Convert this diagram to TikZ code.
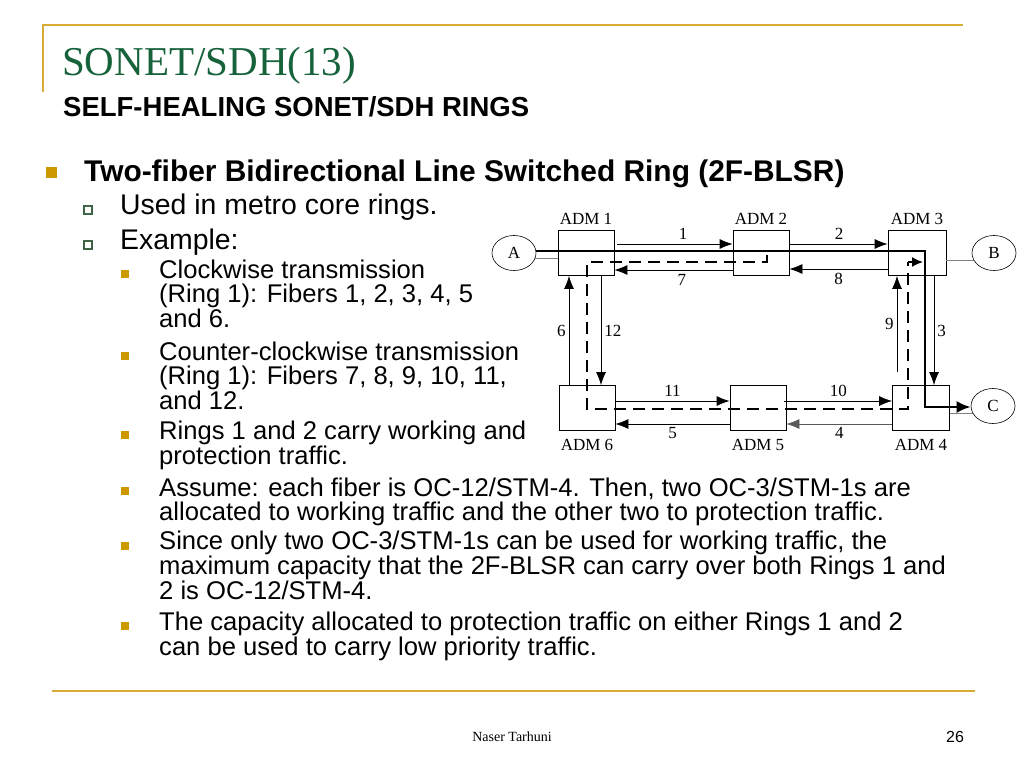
\documentclass[tikz,border=0pt]{standalone}
\usepackage{fontspec}
\setmainfont{Liberation Serif}
\setsansfont{Liberation Sans}
\usepackage{tikz}
\usetikzlibrary{shapes.geometric, arrows.meta, positioning, calc}
\definecolor{titlegreen}{RGB}{22,98,58}
\definecolor{rulegold}{RGB}{214,172,52}
\definecolor{bulletgold}{RGB}{204,153,0}
\definecolor{boxgreen}{RGB}{62,100,72}

\begin{document}
\begin{tikzpicture}[
    x=1pt, y=-1pt,
    lvlone/.style={anchor=base west, inner sep=0, font=\sffamily\bfseries\fontsize{29.9}{30}\selectfont},
    lvltwo/.style={anchor=base west, inner sep=0, font=\sffamily\fontsize{28.4}{28}\selectfont},
    lvlthree/.style={anchor=base west, inner sep=0, align=left, font=\sffamily\fontsize{25.6}{23.5}\selectfont},
    sqbullet/.style={fill=bulletgold, inner sep=0, minimum size=11pt},
    smallbullet/.style={fill=bulletgold, inner sep=0, minimum size=8.5pt},
    boxbullet/.style={draw=boxgreen, fill=white, line width=1.3pt, inner sep=0, minimum size=8pt},
    adm/.style={draw, line width=0.8pt, minimum width=56pt, minimum height=45pt, inner sep=0},
    station/.style={draw, ellipse, line width=0.6pt, minimum width=44pt, minimum height=35pt, inner sep=0, font=\fontsize{17}{17}\selectfont},
    admlabel/.style={font=\fontsize{17}{17}\selectfont, inner sep=1pt},
    num/.style={font=\fontsize{17}{17}\selectfont, inner sep=2pt},
    fiber/.style={line width=0.8pt, -{Latex[length=13pt,width=10pt]}},
    work/.style={line width=2.4pt},
    prot/.style={line width=2pt, dash pattern=on 12pt off 7pt},
    tap/.style={line width=0.8pt, gray}
]
    \useasboundingbox[fill=white] (0,0) rectangle (1024,768);

    % Slide frame
    \draw[rulegold, line width=2pt] (43,92) -- (43,25) -- (963,25);
    \draw[rulegold, line width=2.5pt] (52,691) -- (975,691);

    % Titles
    \node[anchor=base west, inner sep=0, text=titlegreen, font=\fontsize{41}{41}\selectfont] (title) at (62,75) {SONET/SDH(13)};
    \node[anchor=base west, inner sep=0, font=\sffamily\bfseries\fontsize{27.5}{28}\selectfont] (subtitle) at (63,116) {SELF-HEALING SONET/SDH RINGS};

    % Bullet list (multi-line texts sit on their last baseline)
    \node[sqbullet] (bul1) at (51,172) {};
    \node[lvlone] (item1) at (84,181) {Two-fiber Bidirectional Line Switched Ring (2F-BLSR)};
    \node[boxbullet] (bul2) at (88,210) {};
    \node[lvltwo] (item2) at (120,214) {Used in metro core rings.};
    \node[boxbullet] (bul3) at (88,245) {};
    \node[lvltwo] (item3) at (120,249) {Example:};

    \node[smallbullet] (bul4) at (125,274) {};
    \node[lvlthree] (item4) at (159,327) {Clockwise transmission\\(Ring 1): Fibers 1, 2, 3, 4, 5\\and 6.};
    \node[smallbullet] (bul5) at (125,356) {};
    \node[lvlthree] (item5) at (159,409) {Counter-clockwise transmission\\(Ring 1): Fibers 7, 8, 9, 10, 11,\\and 12.};
    \node[smallbullet] (bul6) at (125,435) {};
    \node[lvlthree] (item6) at (159,464) {Rings 1 and 2 carry working and\\protection traffic.};
    \node[smallbullet] (bul7) at (125,491) {};
    \node[lvlthree] (item7) at (159,520) {Assume: each fiber is OC-12/STM-4. Then, two OC-3/STM-1s are\\allocated to working traffic and the other two to protection traffic.};
    \node[smallbullet] (bul8) at (125,546) {};
    \node[lvlthree] (item8) at (159,599) {Since only two OC-3/STM-1s can be used for working traffic, the\\maximum capacity that the 2F-BLSR can carry over both Rings 1 and\\2 is OC-12/STM-4.};
    \node[smallbullet] (bul9) at (125,626) {};
    \node[lvlthree] (item9) at (159,655) {The capacity allocated to protection traffic on either Rings 1 and 2\\can be used to carry low priority traffic.};

    % Ring nodes
    \node[adm, label={[admlabel, label distance=4pt]above:ADM 1}] (adm1) at (586,253) {};
    \node[adm, label={[admlabel, label distance=4pt]above:ADM 2}] (adm2) at (761,253) {};
    \node[adm, minimum width=58pt, label={[admlabel, label distance=4pt]above:ADM 3}] (adm3) at (917,253) {};
    \node[adm, label={[admlabel, label distance=7pt]below:ADM 6}] (adm6) at (587,408) {};
    \node[adm, label={[admlabel, label distance=7pt]below:ADM 5}] (adm5) at (758,408) {};
    \node[adm, minimum width=57pt, label={[admlabel, label distance=7pt]below:ADM 4}] (adm4) at (921,408) {};

    \node[station] (nodeA) at (514,253) {A};
    \node[station] (nodeB) at (994,253) {B};
    \node[station] (nodeC) at (993,406) {C};

    % Fibers of the ring
    \draw[fiber] ($(adm1.east)+(3,-9)$) -- node[num, above=2pt, pos=0.57] (lab1) {1} ($(adm2.west)+(0,-9)$);
    \draw[fiber] ($(adm2.east)+(1,-9)$) -- node[num, above=2pt] (lab2) {2} ($(adm3.west)+(0,-9)$);
    \draw[fiber] ($(adm3.south)+(17,0)$) -- node[num, right=1pt] (lab3) {3} ($(adm4.north)+(13,0)$);
    \draw[fiber, gray!70!black] ($(adm4.west)+(0,16)$) -- node[num, below=1pt, black] (lab4) {4} ($(adm5.east)+(0,16)$);
    \draw[fiber] ($(adm5.west)+(0,16)$) -- node[num, below=1pt] (lab5) {5} ($(adm6.east)+(0,16)$);
    \draw[fiber] ($(adm6.north)+(-18,0)$) -- node[num, left=1pt] (lab6) {6} ($(adm1.south)+(-17,0)$);
    \draw[fiber] ($(adm2.west)+(0,17)$) -- node[num, below=2pt, pos=0.43] (lab7) {7} ($(adm1.east)+(0,17)$);
    \draw[fiber] ($(adm3.west)+(0,16)$) -- node[num, below=2pt] (lab8) {8} ($(adm2.east)+(0,16)$);
    \coordinate (f9) at ($(adm4.north)+(-24,-13)$);
    \draw[fiber] (f9) -- node[num, left=1pt] (lab9) {9} ($(adm3.south)+(-20,0)$);
    \draw[fiber] ($(adm5.east)+(-2,-7)$) -- node[num, above=2pt] (lab10) {10} ($(adm4.west)+(0,-7)$);
    \draw[fiber] ($(adm6.east)+(0,-7)$) -- node[num, above=2pt] (lab11) {11} ($(adm5.west)+(0,-7)$);
    \draw[fiber] ($(adm1.south)+(15,0)$) -- node[num, right=1pt] (lab12) {12} ($(adm6.north)+(14,0)$);

    % Tributaries
    \draw[tap] (nodeA.-14) -- (adm1.west |- nodeA.-14);
    \draw[tap] (adm3.east |- nodeB.200) -- (nodeB.200);
    \draw[tap] (adm4.east |- nodeC.200) -- (nodeC.200);

    % Working path A to C
    \coordinate (w1) at (925,251);
    \coordinate (w2) at (925,407);
    \draw[work, -{Latex[length=14pt,width=12pt]}] ($(nodeA.east)+(0,-2)$) -- (w1) -- (w2) -- (nodeC.west |- w2);

    % Protection path
    \coordinate (d0) at (767,255);
    \coordinate (d1) at (767,262);
    \coordinate (d2) at (587,262);
    \coordinate (d3) at (587,409);
    \coordinate (d4) at (908,409);
    \coordinate (d5) at (908,262);
    \coordinate (d6) at (923,262);
    \draw[prot] (d0) -- (d1) -- (d2) -- (d3) -- (d4) -- (d5);
    \draw[line width=1.6pt, -{Latex[length=11pt,width=10pt]}] (d5) -- (d6);

    % Footer
    \node[anchor=base, inner sep=0, font=\fontsize{14}{14}\selectfont] (author) at (512,741) {Naser Tarhuni};
    \node[anchor=base, inner sep=0, font=\sffamily\fontsize{16}{16}\selectfont] (pagenum) at (955,742) {26};
\end{tikzpicture}
\end{document}
